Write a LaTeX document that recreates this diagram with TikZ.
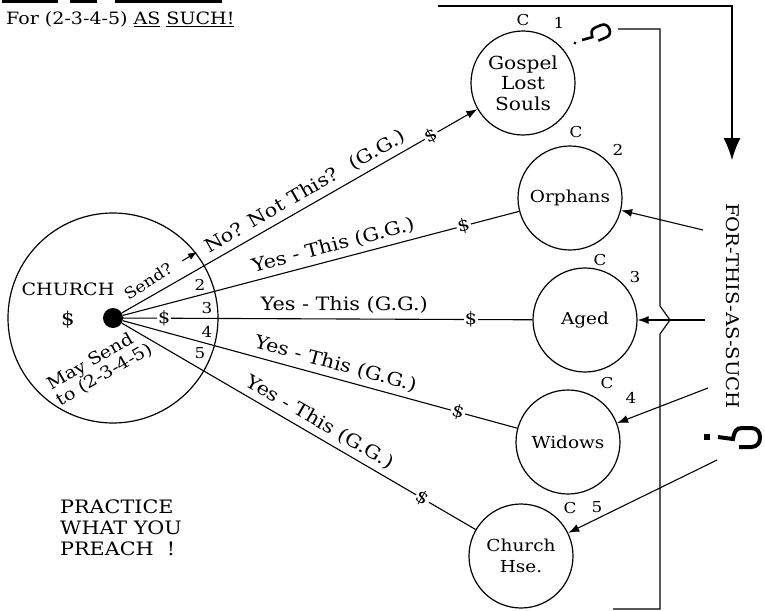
\documentclass[tikz,border=0pt]{standalone}
\usepackage{fontspec}
\setmainfont{DejaVu Serif}[FakeStretch=1.12]
\usetikzlibrary{arrows.meta}
\begin{document}
\begin{tikzpicture}[x=1pt,y=-1pt,
  conn/.style={line width=1.1pt},
  arr/.style={conn,-{Latex[length=11pt,width=8pt]}},
  bubble/.style={circle,draw,line width=1.2pt,minimum size=104pt,inner sep=0pt,align=center,font=\fontsize{16.5}{20}\selectfont},
  lbl/.style={font=\fontsize{18.5}{21}\selectfont,inner sep=0pt},
  small/.style={font=\fontsize{15}{16}\selectfont,inner sep=0pt},
  money/.style={font=\fontsize{17}{18}\selectfont,fill=white,inner sep=1.2pt},
  qstroke/.style={line width=4pt}
]
\useasboundingbox (0,0) rectangle (765,610);

% cut-off underlines at the top edge
\draw[line width=3pt] (2,1.5) -- (58,1.5) (70,1.5) -- (97,1.5) (115,1.5) -- (222,1.5);
\node[font=\fontsize{17}{20}\selectfont,inner sep=0pt,anchor=base west] (title) at (6,25) {For (2-3-4-5) \underline{AS} \underline{SUCH!}};

% church circle
\node[circle,draw,line width=1.2pt,minimum size=210pt] (church) at (113,318) {};
\node[circle,fill=black,minimum size=20pt,inner sep=0pt] (dot) at (113,318) {};
\node[font=\fontsize{17}{20}\selectfont,inner sep=0pt] (churchtxt) at (68,289) {CHURCH};
\node[font=\fontsize{19}{20}\selectfont,inner sep=0pt] (cdollar) at (68,320) {\$};
\node[font=\fontsize{15.5}{18}\selectfont,inner sep=0pt,rotate=33] (send) at (148,281) {Send?};
\coordinate (sendA) at (182,261);
\coordinate (sendB) at (197,252);
\draw[conn,-{Latex[length=9pt,width=7pt]}] (sendA) -- (sendB);
\node[font=\fontsize{17}{18}\selectfont,inner sep=0pt,rotate=30,align=left] (may) at (100,367) {May Send\\to (2-3-4-5)};
\node[small] (n2) at (200,285) {2};
\node[small] (n3) at (207,308) {3};
\node[small] (n4) at (207,332) {4};
\node[small] (n5) at (200,353) {5};

% recipient circles
\node[bubble,font=\fontsize{18}{20.5}\selectfont] (gospel) at (523,83) {Gospel\\Lost\\Souls};
\node[bubble] (orph) at (570,198) {Orphans};
\node[bubble] (aged) at (585,320) {Aged};
\node[bubble] (wid) at (568,442) {Widows};
\node[bubble,font=\fontsize{16.5}{21}\selectfont] (hse) at (521,556) {Church\\Hse.};

\node[small] (c1) at (523,20) {C};  \node[small] (k1) at (559,23) {1};
\node[small] (c2) at (576,132) {C}; \node[small] (k2) at (618,150) {2};
\node[small] (c3) at (600,260) {C}; \node[small] (k3) at (635,277) {3};
\node[small] (c4) at (607,383) {C}; \node[small] (k4) at (631,398) {4};
\node[small] (c5) at (570,508) {C}; \node[small] (k5) at (597,507) {5};

% lines from the church
\draw[arr] (dot) -- node[lbl,sloped,above=5pt,pos=0.535] {No? Not This?~ (G.G.)} node[money,sloped,pos=0.87] {\$} (gospel);
\draw[conn] (dot) -- node[lbl,sloped,above=5pt,pos=0.54] {Yes - This (G.G.)} node[money,sloped,pos=0.86] {\$} (orph);
\draw[conn] (dot) -- node[money,pos=0.1] {\$} node[lbl,sloped,above=5pt,pos=0.54] {Yes - This (G.G.)} node[money,pos=0.85] {\$} (aged);
\draw[conn] (dot) -- node[lbl,sloped,above=5pt,pos=0.53] {Yes - This (G.G.)} node[money,sloped,pos=0.85] {\$} (wid);
\draw[conn] (dot) -- node[lbl,sloped,above=5pt,pos=0.54] {Yes - This (G.G.)} node[money,sloped,pos=0.85] {\$} (hse);

% bracket on the right
\draw[conn] (618,29) -- (660,29) -- (660,306) -- (670,320) -- (660,334) -- (660,609) -- (613,609);

% top arrow
\coordinate (topL) at (438,6);
\coordinate (topC) at (732,6);
\coordinate (topT) at (732,160);
\draw[conn,-{Latex[length=22pt,width=17pt]}] (topL) -- (topC) -- (topT);

\node[font=\fontsize{17.5}{20}\selectfont,inner sep=0pt,rotate=-90] (fts) at (733,306) {FOR-THIS-AS-SUCH};

% arrows from the right
\coordinate (r2) at (703,230);
\coordinate (r3) at (705,320);
\coordinate (r4) at (708,388);
\coordinate (r5) at (717,460);
\draw[arr] (r2) -- (orph);
\draw[arr] (r3) -- (aged);
\draw[arr] (r4) -- (wid);
\draw[arr] (r5) -- (hse);

% sideways question marks
\begin{scope}[shift={(707,437)}]
  \fill (-3,-3) rectangle (3,3);
  \draw[qstroke] (11,0) -- (26,2) .. controls (27,-5) and (29,-9) .. (35,-9) -- (44,-9) .. controls (50,-9) and (53,-5) .. (53,0.5) .. controls (53,6) and (50,10) .. (44,10) -- (32,10);
\end{scope}
\begin{scope}[shift={(575,43)},rotate=23,scale=0.7]
  \fill (0,0) circle (2.2pt);
  \draw[line width=2.6pt] (11,0) -- (26,2) .. controls (27,-5) and (29,-9) .. (35,-9) -- (44,-9) .. controls (50,-9) and (53,-5) .. (53,0.5) .. controls (53,6) and (50,10) .. (44,10) -- (32,10);
\end{scope}

\node[font=\fontsize{18.5}{21}\selectfont,align=left,anchor=north west,inner sep=0pt] (practice) at (60,500) {PRACTICE\\WHAT YOU\\PREACH~~!};
\end{tikzpicture}
\end{document}
